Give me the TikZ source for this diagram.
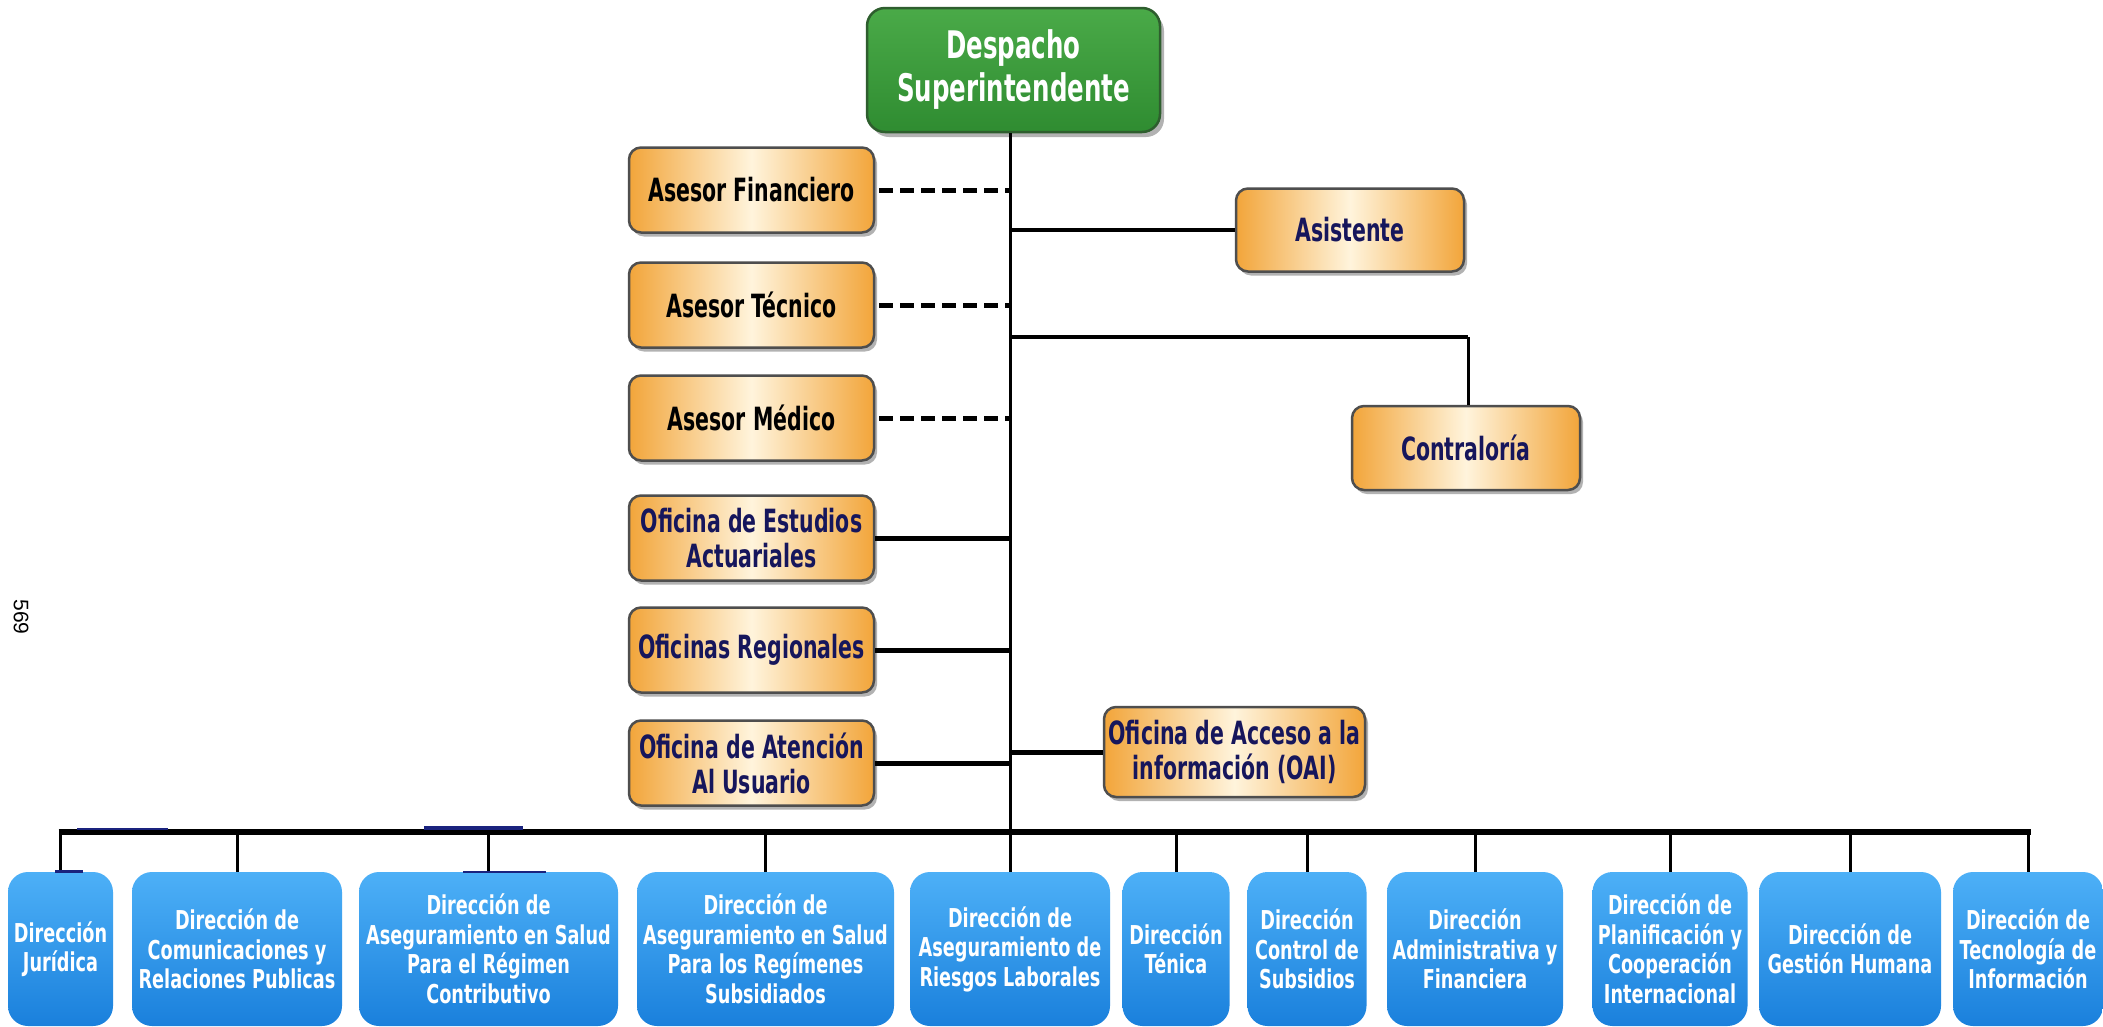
\documentclass[tikz,border=0pt]{standalone}
\usepackage{fontspec}
\newfontfamily\cf{DejaVu Sans}[FakeStretch=0.64]
\newfontfamily\cfd{DejaVu Sans}[FakeStretch=0.645]
\newfontfamily\cfb{DejaVu Sans}[FakeStretch=0.68]
\newfontfamily\pnum{Liberation Sans}
\usetikzlibrary{shadows,calc}
\definecolor{navy}{HTML}{16165C}
\definecolor{org}{HTML}{F2A53A}
\definecolor{cream}{HTML}{FFF4DC}
\definecolor{obord}{HTML}{4E4E4E}
\definecolor{bluetop}{HTML}{4DB0F7}
\definecolor{bluebot}{HTML}{1A80DC}
\definecolor{gtop}{HTML}{4AAA48}
\definecolor{gbot}{HTML}{2F8C31}
\definecolor{gbord}{HTML}{2E5E2E}
\definecolor{navymark}{HTML}{1A237E}
\tikzset{
  obox/.style={rounded corners=12pt, draw=obord, line width=2.5pt,
    left color=org, right color=org, middle color=cream,
    minimum height=85pt, inner sep=0pt, align=center, text=navy,
    font=\cf\bfseries\fontsize{32}{35}\selectfont,
    drop shadow={shadow xshift=3pt,shadow yshift=-4pt,fill=black!60,opacity=.5}},
  bbox/.style={rounded corners=20pt, draw=none, top color=bluetop, bottom color=bluebot,
    minimum height=154pt, inner sep=0pt, align=center, text=white,
    font=\cfb\bfseries\fontsize{26}{29.5}\selectfont},
  gbox/.style={rounded corners=18pt, draw=gbord, line width=2.5pt,
    top color=gtop, bottom color=gbot, minimum width=293pt, minimum height=124pt,
    inner sep=0pt, align=center, text=white,
    font=\cfd\bfseries\fontsize{38}{43}\selectfont,
    drop shadow={shadow xshift=4pt,shadow yshift=-5pt,fill=black!60,opacity=.5}},
  vline/.style={line width=3pt},
  hline/.style={line width=5pt},
  mline/.style={line width=4pt},
  busline/.style={line width=6pt},
  dashl/.style={line width=5pt, dash pattern=on 14pt off 7pt, shorten <=4pt},
}
\begin{document}
\begin{tikzpicture}[x=1pt,y=-1pt]
\useasboundingbox[fill=white] (0,0) rectangle (2103,1026);

% coordinates of the trunk
\coordinate (mainB) at (1010,832);
\coordinate (busL) at (60,832);
\coordinate (busR) at (2029,832);
\coordinate (cj) at (1468,337);

% top node
\node[gbox] (desp) at (1013.5,70) {Despacho\\Superintendente};

% left orange boxes
\node[obox, minimum width=245pt, text=black] (fin) at (751.5,190) {Asesor Financiero};
\node[obox, minimum width=245pt, text=black] (tec) at (751.5,305) {Asesor T\'ecnico};
\node[obox, minimum width=245pt, text=black] (med) at (751.5,418) {Asesor M\'edico};
\node[obox, minimum width=245pt] (est) at (751.5,538) {Oficina de Estudios\\Actuariales};
\node[obox, minimum width=245pt] (reg) at (751.5,650) {Oficinas Regionales};
\node[obox, minimum width=245pt] (ate) at (751.5,763) {Oficina de Atenci\'on\\Al Usuario};

% right orange boxes
\node[obox, minimum width=228pt, minimum height=83pt] (asis) at (1350,230) {Asistente};
\node[obox, minimum width=228pt, minimum height=84pt] (cont) at (1466,448) {Contralor\'ia};
\node[obox, minimum width=261pt, minimum height=90pt] (oai) at (1234.5,752) {Oficina de Acceso a la\\informaci\'on (OAI)};

% bottom blue boxes
\node[bbox, minimum width=105pt] (b1) at (60.5,949) {Direcci\'on\\Jur\'idica};
\node[bbox, minimum width=210pt] (b2) at (237,949) {Direcci\'on de\\Comunicaciones y\\Relaciones Publicas};
\node[bbox, minimum width=259pt] (b3) at (488.5,949) {Direcci\'on de\\Aseguramiento en Salud\\Para el R\'egimen\\Contributivo};
\node[bbox, minimum width=257pt] (b4) at (765.5,949) {Direcci\'on de\\Aseguramiento en Salud\\Para los Reg\'imenes\\Subsidiados};
\node[bbox, minimum width=200pt] (b5) at (1010,949) {Direcci\'on de\\Aseguramiento de\\Riesgos Laborales};
\node[bbox, minimum width=107pt] (b6) at (1176,949) {Direcci\'on\\T\'enica};
\node[bbox, minimum width=119pt] (b7) at (1307,949) {Direcci\'on\\Control de\\Subsidios};
\node[bbox, minimum width=176pt] (b8) at (1475,949) {Direcci\'on\\Administrativa y\\Financiera};
\node[bbox, minimum width=155pt] (b9) at (1670,949) {Direcci\'on de\\Planificaci\'on y\\Cooperaci\'on\\Internacional};
\node[bbox, minimum width=182pt] (b10) at (1850,949) {Direcci\'on de\\Gesti\'on Humana};
\node[bbox, minimum width=150pt] (b11) at (2028,949) {Direcci\'on de\\Tecnolog\'ia de\\Informaci\'on};

% trunk
\draw[vline] (mainB |- desp.south) -- (mainB);

% dashed advisors
\draw[dashl] (fin.east) -- (fin.east -| mainB);
\draw[dashl] (tec.east) -- (tec.east -| mainB);
\draw[dashl] (med.east) -- (med.east -| mainB);

% solid left offices
\draw[hline] (est.east) -- (est.east -| mainB);
\draw[hline] (reg.east) -- (reg.east -| mainB);
\draw[hline] (ate.east) -- (ate.east -| mainB);

% right side
\draw[mline] (asis.west) -- (asis.west -| mainB);
\draw[mline] (cj -| mainB) -- (cj);
\draw[vline] (cj) -- (cj |- cont.north);
\draw[hline] (oai.west) -- (oai.west -| mainB);

% bus and drops
\draw[busline] ([xshift=-1.5pt]busL) -- ([xshift=1.5pt]busR);
\foreach \b in {b1,b2,b3,b4,b5,b6,b7,b8,b9,b10,b11}
  \draw[vline] (\b.north) -- (\b.north |- mainB);

% small navy marks
\draw[navymark, line width=2pt] (77,828.5) -- (168,828.5);
\draw[navymark, line width=4pt] (424,828) -- (523,828);
\draw[navymark, line width=2pt] (463,872) -- (546,872);
\draw[navymark, line width=3pt] (55,871) -- (83,871);

% page number
\node[rotate=-90, font=\pnum\fontsize{21}{21}\selectfont, inner sep=0pt] (pg) at (21,617) {569};
\end{tikzpicture}
\end{document}
